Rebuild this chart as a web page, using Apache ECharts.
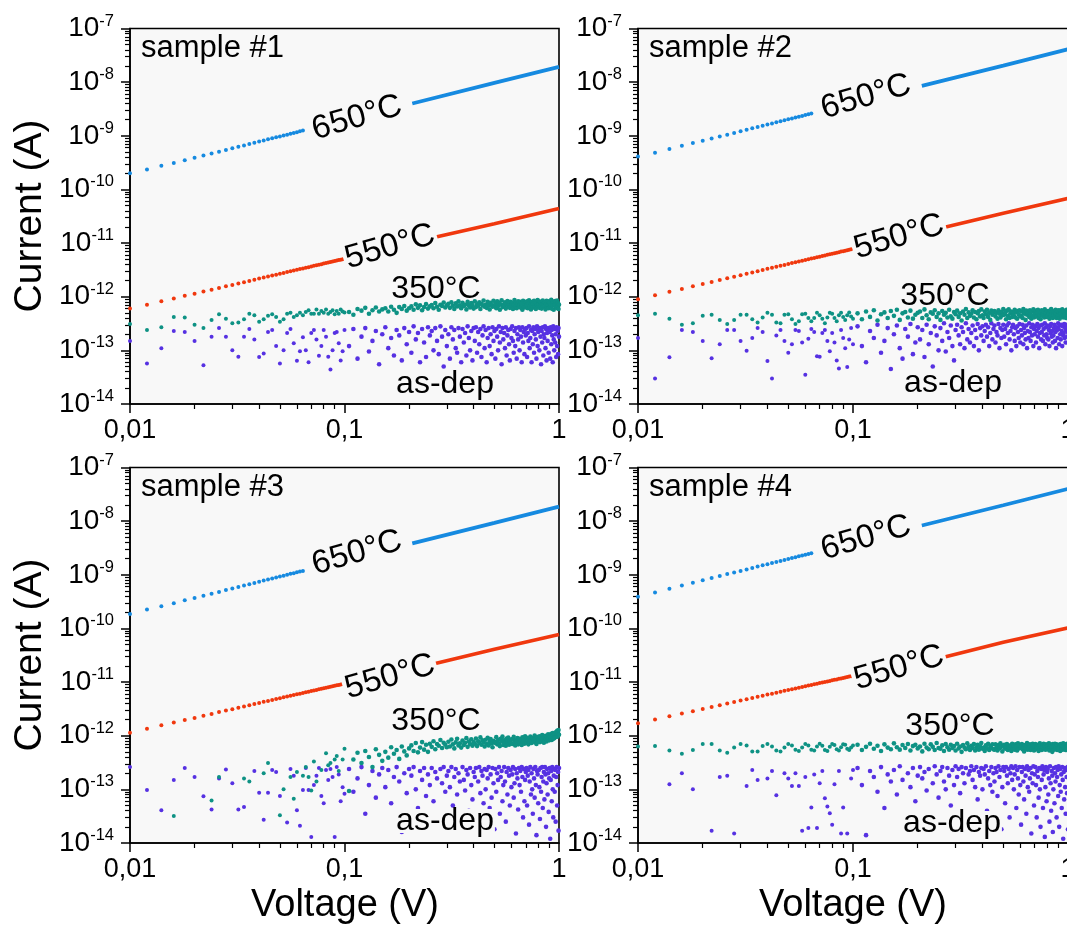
<!DOCTYPE html>
<html><head><meta charset="utf-8">
<script src="https://cdn.jsdelivr.net/npm/echarts@6/dist/echarts.min.js"></script>
<style>html,body{margin:0;padding:0;background:#fff}#c{width:1067px;height:926px}</style>
</head><body><div id="c"></div>
<script>
// Voltage sweep (mV)
const voltage_mV = [
10,12,14,16,18,20,22,24,26,28,30,32,34,36,38,40,42,44,46,48,
50,52,54,56,58,60,62,64,66,68,70,72,74,76,78,80,82,84,86,88,
90,92,94,96,98,100,
105,110,115,120,125,130,135,140,145,150,155,160,165,170,175,180,185,190,195,200,
205,210,215,220,225,230,235,240,245,250,255,260,265,270,275,280,285,290,295,300,
305,310,315,320,325,330,335,340,345,350,355,360,365,370,375,380,385,390,395,400,
405,410,415,420,425,430,435,440,445,450,455,460,465,470,475,480,485,490,495,500,
505,510,515,520,525,530,535,540,545,550,555,560,565,570,575,580,585,590,595,600,
605,610,615,620,625,630,635,640,645,650,655,660,665,670,675,680,685,690,695,700,
705,710,715,720,725,730,735,740,745,750,755,760,765,770,775,780,785,790,795,800,
805,810,815,820,825,830,835,840,845,850,855,860,865,870,875,880,885,890,895,900,
905,910,915,920,925,930,935,940,945,950,955,960,965,970,975,980,985,990,995,1000];

// ---- sample #1 ----
// as-dep and 350°C in units of 1e-13 A (aligned with voltage_mV)
const s1_asdep = [
1.5,0.57,1.1,2.3,2.2,1.5,0.53,1.8,2.6,1.8,1.0,0.76,1.8,2.5,1.6,0.75,0.87,2.2,2.4,1.2,
0.57,1.0,2.1,2.5,1.35,0.64,0.96,1.76,1.0,0.6,2.1,2.4,1.6,0.79,1.2,2.4,1.8,0.76,0.44,1.0,
2.1,2.2,1.35,0.65,0.96,2.4,
1.2,2.5,0.7,1.8,2.6,0.95,1.5,2.3,0.55,2.0,2.7,1.1,1.7,0.8,2.4,1.9,0.65,2.6,1.3,2.2,
0.9,2.8,1.6,2.1,0.6,2.5,1.4,0.75,2.7,1.9,2.3,1.0,2.6,1.5,0.85,2.8,1.8,0.5,2.4,1.2,
2.0,0.7,2.7,1.6,2.4,1.1,0.9,2.6,1.8,0.6,2.5,1.4,2.1,0.8,2.8,1.7,1.0,2.3,0.65,2.6,
1.5,2.7,0.9,2.2,1.3,2.5,0.75,1.9,2.8,1.1,2.4,0.6,1.7,2.6,1.2,2.0,0.85,2.7,1.5,2.3,
0.7,2.5,1.8,1.0,2.8,1.4,2.2,0.55,2.6,1.6,2.1,1.1,2.7,0.8,1.9,2.4,1.3,0.65,2.5,1.7,
2.8,1.5,0.9,2.3,1.2,2.6,0.7,2.0,1.6,2.7,1.0,2.4,1.8,0.6,2.7,1.4,2.2,0.85,2.5,1.9,
2.6,0.75,2.1,1.5,2.8,1.1,1.7,2.4,0.6,2.3,1.3,2.7,0.9,2.0,2.5,1.6,0.7,2.8,1.2,2.2,
2.4,1.0,2.6,1.8,0.55,2.3,1.4,2.7,0.8,2.0,1.7,2.8,1.1,2.5,0.65,2.1,1.5,2.6,0.9,2.4,
2.2,0.7,2.7,1.3,2.4,1.9,0.6,2.8,1.6,1.0,2.5,1.4,2.0,0.75,2.7,1.2,2.3,0.85,2.6,1.8];
const s1_350 = [
3.1,2.4,2.7,4.2,4.1,3.0,2.6,3.7,4.7,3.9,3.2,3.3,3.8,4.8,4.5,3.4,3.8,4.4,4.7,4.2,
3.4,3.8,4.8,5.0,4.2,4.5,5.0,4.5,5.2,5.6,4.8,4.8,5.8,4.8,5.4,5.0,5.8,4.8,5.2,5.6,
4.7,5.4,4.8,5.8,5.3,5.1,
5.2,4.6,5.9,5.5,6.2,4.8,5.6,6.3,5.3,5.8,6.1,5.3,6.5,5.7,5.0,6.4,5.9,6.7,5.5,6.1,
6.6,5.7,7.2,6.2,6.9,5.6,6.4,7.3,6.0,6.6,7.0,6.1,7.6,6.5,5.7,7.1,6.7,7.8,6.3,6.9,
7.4,6.2,7.9,6.8,5.9,7.5,6.6,8.2,6.9,6.1,7.7,6.7,7.1,5.8,8.0,6.9,6.3,7.6,7.0,6.0,
8.2,6.4,7.2,6.8,7.9,5.9,7.4,6.9,8.5,6.5,7.1,6.2,8.0,6.9,5.8,7.7,7.0,6.5,8.4,6.8,
7.4,6.1,8.2,6.7,7.6,5.7,7.2,8.6,6.4,7.0,6.8,7.9,6.0,7.3,8.3,6.5,7.1,6.2,8.0,6.9,
7.6,5.9,7.0,8.7,6.7,7.7,6.1,7.2,8.2,6.5,7.0,8.0,6.2,7.4,5.7,8.4,6.8,7.5,6.3,7.9,
6.9,8.2,6.1,7.2,8.6,6.5,7.7,5.8,7.1,8.0,7.3,6.3,8.4,6.8,7.5,5.9,7.9,7.0,8.7,6.6,
7.2,6.2,8.1,6.9,7.7,6.0,7.1,8.5,6.5,7.4,6.8,7.9,5.8,7.3,8.4,6.4,7.0,8.2,6.1,7.2,
7.7,6.6,7.1,8.8,6.0,7.5,6.9,8.1,5.7,7.3,7.0,8.3,6.5,7.2,6.2,8.5,6.8,7.6,5.9,7.1];
// 550°C dots (1e-12 A) and 650°C dots (1e-10 A), first points of the sweep
const s1_550 = [0.60,0.71,0.82,0.93,1.04,1.14,1.25,1.35,1.46,1.56,1.66,1.77,1.87,1.97,2.07,2.18,2.28,2.38,2.48,2.58,
2.68,2.78,2.88,2.97,3.07,3.17,3.27,3.37,3.47,3.56,3.66,3.76,3.85,3.95,4.05,4.14,4.24,4.34,4.43,4.53,4.62,4.72,4.82,4.91,5.01];
const s1_650 = [2.0,2.35,2.75,3.1,3.5,3.9,4.3,4.7,5.05,5.45,5.85,6.25,6.6,7.0,7.4,7.8,8.2,8.6,9.0,9.35,9.75,10.1,10.5,10.9,11.3,11.7,12.1,12.5];
// dense high-voltage part (V, A)
const s1_550_hi = [[0.267,1.3e-11],[0.5,2.3e-11],[1.0,4.4e-11]];
const s1_650_hi = [[0.207,4.0e-9],[0.5,9.7e-9],[1.0,1.92e-8]];

// ---- sample #2 ----
const s2_asdep = [
1.7,0.30,0.74,2.4,2.2,1.5,0.71,1.3,2.4,2.4,1.5,0.98,1.7,2.6,2.2,0.63,0.30,1.9,2.4,1.5,
0.9,1.3,2.4,2.3,1.4,0.35,1.65,2.5,2.2,0.78,0.76,2.1,2.4,1.5,0.96,2.1,1.4,0.65,0.46,2.4,
1.7,1.1,0.49,1.6,2.6,1.3,
2.8,1.2,0.6,2.3,1.7,3.0,0.9,1.5,2.6,0.45,2.0,2.9,1.1,0.7,2.5,1.8,3.1,0.85,1.4,2.7,
1.6,2.4,0.75,3.0,1.3,2.1,0.5,2.8,1.9,1.0,2.6,1.5,3.2,0.95,2.2,1.7,2.9,1.2,0.65,2.4,
3.0,1.9,1.3,2.7,2.2,1.1,3.2,1.6,2.5,1.4,2.1,2.9,1.2,2.4,1.7,3.1,1.0,2.6,1.9,2.8,
1.5,2.3,3.0,1.8,2.7,1.2,2.1,3.2,1.6,2.5,2.9,1.4,2.2,1.9,3.1,1.1,2.6,1.7,2.4,3.0,
1.8,2.5,1.3,2.9,2.1,3.2,1.6,2.3,1.0,2.7,3.0,2.0,1.5,2.6,1.2,2.8,2.2,1.7,3.1,1.4,
2.4,1.9,3.0,1.3,2.6,2.1,1.6,2.9,1.1,2.3,1.7,3.2,2.2,1.5,2.7,1.9,3.0,1.2,2.5,2.0,
2.8,1.4,2.3,3.1,1.8,2.6,1.1,2.1,2.9,1.6,2.2,3.0,1.5,2.5,1.9,3.2,1.3,2.7,2.0,1.7,
2.9,1.6,2.4,1.2,2.8,2.1,3.1,1.8,2.3,1.4,1.9,2.6,3.0,1.5,2.2,1.1,2.7,2.4,1.7,3.2,
2.5,1.3,2.9,2.0,1.6,3.0,2.3,1.2,2.8,1.9,2.1,3.1,1.7,2.6,1.4,2.4,3.0,1.8,2.2,2.7];
const s2_350 = [
4.5,4.8,3.9,3.0,3.2,4.4,4.6,3.7,3.1,3.7,4.6,4.6,3.8,3.3,4.1,5.0,4.6,3.3,3.2,4.6,
4.7,3.8,3.1,3.5,4.7,4.8,4.0,3.5,4.0,5.0,4.5,3.9,3.2,4.1,5.0,4.8,4.0,3.5,4.5,5.0,
4.2,3.7,4.5,5.1,4.3,3.9,
4.9,3.8,5.3,4.2,5.6,3.6,4.7,5.1,4.0,5.4,4.4,5.7,3.7,4.9,5.2,4.1,5.5,3.9,4.6,5.0,
5.3,4.0,5.8,4.5,3.8,5.1,4.8,5.6,4.2,4.9,3.7,5.4,4.6,5.0,4.1,5.7,4.3,3.9,5.2,4.7,
5.5,4.2,4.9,3.6,5.3,4.6,5.9,4.0,5.1,4.4,4.8,5.6,4.1,5.2,3.8,4.9,5.4,4.3,5.8,4.5,
4.0,5.3,4.7,5.7,4.2,5.0,3.7,5.5,4.6,5.1,5.4,4.3,5.0,3.9,5.6,4.8,4.1,5.2,4.5,5.9,
4.6,5.1,3.8,5.5,4.4,5.8,4.0,4.9,5.3,4.2,5.0,4.5,5.7,4.1,5.2,3.9,5.4,4.7,5.6,4.3,
4.4,5.3,4.0,5.9,4.8,5.1,3.7,5.5,4.6,5.0,5.2,4.2,5.6,4.7,3.9,5.4,4.4,5.8,4.1,4.9,
4.7,5.5,4.3,5.0,5.7,4.0,5.3,4.5,3.8,5.1,5.6,4.4,4.9,5.3,4.1,5.8,4.6,5.0,4.2,5.4,
4.3,5.2,4.8,3.9,5.5,4.5,5.9,4.7,5.1,4.0,5.0,4.6,5.4,4.2,5.7,4.8,4.0,5.3,4.4,5.6,
4.5,5.1,3.9,5.6,4.7,5.2,4.3,5.8,4.9,4.1,5.3,4.4,5.0,4.6,5.5,4.0,5.7,4.8,5.2,4.5];
const s2_550 = [0.90,1.07,1.24,1.40,1.56,1.73,1.89,2.05,2.21,2.36,2.51,2.68,2.83,2.99,3.14,3.31,3.46,3.61,3.77,3.92,
4.08,4.23,4.38,4.52,4.67,4.83,4.98,5.13,5.29,5.43,5.58,5.74,5.88,6.03,6.18,6.32,6.48,6.63,6.77,6.93,7.07,7.22,7.37,7.51,7.66];
const s2_650 = [4.1,4.85,5.65,6.5,7.3,8.1,8.9,9.7,10.5,11.3,12.2,13.0,13.8,14.6,15.4,16.2,17.0,17.8,18.6,19.4,20.3,21.1,21.9,22.7,23.5,24.3,25.1,25.9];
const s2_550_hi = [[0.27,2.0e-11],[0.5,3.6e-11],[1.0,6.8e-11]];
const s2_650_hi = [[0.209,8.5e-9],[0.5,2.03e-8],[1.0,4.1e-8]];

// ---- sample #3 ----
const s3_asdep = [
2.6,0.97,0.41,1.5,2.5,1.7,0.74,0.42,1.6,2.35,1.3,0.42,0.47,null,2.2,0.86,0.27,0.86,2.3,2.1,
0.75,null,0.24,2.4,1.8,0.41,0.21,0.97,2.5,0.97,0.13,1.2,1.8,2.5,0.75,0.55,2.3,1.5,2.4,1.7,
0.13,2.6,1.9,0.6,1.1,0.83,
2.4,0.9,1.6,2.6,0.35,1.2,2.2,0.7,1.9,2.5,1.1,2.3,0.55,1.7,2.6,1.4,0.16,2.0,0.85,2.4,
1.8,2.6,1.0,0.45,2.2,1.5,2.5,0.75,1.9,1.2,2.5,0.6,2.1,1.6,0.28,2.4,1.3,2.6,0.9,1.8,
2.2,1.1,2.6,0.5,1.7,2.4,0.8,2.0,1.4,0.2,2.6,1.5,0.95,2.3,1.9,0.4,2.5,1.2,0.65,2.1,
1.7,2.5,0.3,1.4,2.6,0.85,2.2,1.8,0.55,2.4,1.0,2.3,1.6,2.6,0.45,1.9,0.7,2.5,1.3,0.18,
2.4,0.9,2.0,1.5,2.6,0.35,1.7,2.2,0.6,1.2,2.6,1.4,0.25,2.1,0.8,2.5,1.8,0.5,2.3,1.1,
1.9,2.6,0.7,1.3,2.4,0.15,2.0,1.6,0.42,2.5,1.2,2.2,0.9,2.6,1.7,0.3,2.4,0.6,1.5,2.1,
2.5,0.5,1.8,2.3,0.22,1.4,2.6,0.8,2.0,1.0,0.35,2.4,1.6,0.7,2.6,1.2,0.14,2.2,1.9,0.55,
2.3,1.1,0.28,2.5,0.9,1.7,2.6,0.45,1.4,2.1,0.65,2.6,1.9,0.2,1.3,2.4,0.8,2.0,0.38,1.6,
2.5,0.12,1.5,2.2,0.6,2.6,1.0,0.3,1.8,2.4,0.9,2.3,0.25,1.7,2.6,0.5,1.2,2.1,0.17,2.5];
const s3_350 = [
null,null,null,0.32,null,null,null,0.62,1.7,null,null,null,1.6,1.4,null,null,2.0,3.1,null,null,
0.33,1.0,null,1.7,0.67,2.1,null,1.8,2.6,1.7,0.95,3.3,1.4,null,2.3,null,4.7,2.8,3.1,null,
3.6,4.2,2.2,null,3.6,5.7,
0.93,3.6,4.8,3.1,5.2,4.0,2.6,5.6,4.4,3.4,5.0,3.9,6.1,4.6,5.4,3.7,6.3,5.1,4.3,5.8,
6.6,5.2,7.3,4.9,6.0,7.6,5.5,6.8,5.0,7.1,6.2,7.9,5.6,7.0,6.5,8.3,5.9,7.4,6.8,6.1,
7.7,6.3,8.5,6.9,5.8,7.5,8.8,6.6,7.2,6.0,8.1,6.7,7.4,9.0,6.2,7.8,7.0,8.6,6.5,7.6,
7.1,8.9,6.4,7.9,7.3,9.3,6.8,8.2,7.5,6.3,8.4,7.0,9.1,6.6,7.7,8.7,7.2,6.1,8.0,7.4,
7.6,9.4,6.9,8.3,7.1,6.4,8.8,7.8,9.6,6.7,8.2,7.3,6.5,8.9,7.7,9.2,6.8,8.0,7.4,8.6,
7.0,8.5,9.5,7.5,6.6,8.1,7.9,9.0,6.9,8.4,8.8,7.2,8.0,6.7,9.3,7.6,8.6,7.1,9.8,7.8,
7.4,9.1,8.3,6.9,8.7,7.7,9.6,8.0,7.3,8.9,9.0,7.8,8.5,10.1,7.5,8.8,7.0,9.4,8.2,7.7,
8.6,9.7,7.6,8.3,9.2,7.9,10.3,8.1,8.8,7.4,9.3,8.0,10.0,8.7,7.8,9.6,8.4,10.6,8.9,8.2,
9.9,8.5,9.2,10.8,8.3,9.7,11.2,8.8,10.2,9.0,10.5,9.4,11.6,9.8,10.9,12.3,9.6,11.1,12.8,10.4];
const s3_550 = [1.14,1.35,1.56,1.76,1.96,2.15,2.36,2.55,2.76,2.94,3.13,3.33,3.52,3.70,3.89,4.09,4.28,4.46,4.64,4.83,
5.01,5.19,5.37,5.54,5.72,5.90,6.08,6.26,6.44,6.61,6.79,6.97,7.13,7.31,7.49,7.65,7.83,8.01,8.17,8.35,8.51,8.69,8.86,9.02,9.20];
const s3_650 = [1.85,2.25,2.6,2.95,3.35,3.7,4.05,4.45,4.8,5.2,5.55,5.9,6.3,6.65,7.05,7.4,7.8,8.15,8.5,8.9,9.25,9.6,10.0,10.4,10.7,11.1,11.5,11.8];
const s3_550_hi = [[0.262,2.2e-11],[0.5,4.1e-11],[1.0,7.7e-11]];
const s3_650_hi = [[0.207,3.85e-9],[0.5,9.3e-9],[1.0,1.87e-8]];

// ---- sample #4 ----
const s4_asdep = [
null,null,1.25,2.0,1.0,null,0.17,1.7,1.8,0.15,null,1.15,2.3,1.5,null,1.6,2.2,0.78,null,2.0,
1.6,1.15,2.0,1.15,0.17,1.7,0.19,0.46,1.9,0.19,1.3,2.2,0.68,0.48,0.36,0.22,1.25,null,2.2,0.15,
0.46,null,0.15,null,1.6,2.3,
2.5,1.2,0.14,2.2,1.7,0.9,2.6,0.45,1.9,1.4,2.3,0.8,2.7,1.5,0.2,2.0,1.1,2.5,0.6,1.8,
2.6,1.6,2.1,0.95,2.4,0.35,1.3,2.7,1.9,0.7,2.2,2.6,1.4,1.0,2.5,1.8,0.5,2.3,1.2,2.7,
1.7,2.4,0.85,2.6,2.0,1.3,2.5,0.28,1.9,2.2,2.7,1.5,2.3,1.1,2.6,0.65,2.1,1.8,2.5,1.0,
2.4,1.9,2.7,0.4,1.6,2.2,1.2,2.6,0.9,2.0,1.4,2.5,2.1,0.75,2.7,1.7,2.3,0.18,1.1,2.6,
2.2,0.55,2.6,1.8,1.3,2.4,0.3,2.0,2.7,1.5,2.5,1.0,1.9,2.7,0.45,2.3,1.6,0.8,2.6,1.2,
0.22,2.1,2.6,1.4,0.65,2.4,1.8,0.35,2.7,1.1,2.3,0.9,1.6,2.5,0.15,2.0,1.3,2.7,0.5,1.9,
2.6,1.2,0.3,2.2,1.7,0.7,2.5,1.0,0.2,2.4,1.5,2.7,0.45,1.9,2.3,0.13,1.1,2.6,0.6,2.1,
2.4,0.8,1.6,0.25,2.7,1.3,0.4,2.2,1.8,0.16,1.0,2.5,0.55,2.0,1.4,2.6,0.3,1.7,2.3,0.75,
2.7,0.2,1.2,2.4,0.9,1.9,0.45,2.6,1.5,0.12,2.1,0.65,2.5,1.1,0.35,2.3,1.7,0.85,2.6,0.18];
const s4_350 = [
6.3,6.4,5.3,4.6,5.4,7.0,7.0,5.3,4.8,6.0,7.0,6.6,5.1,5.1,6.4,7.0,6.3,5.3,5.1,6.0,
7.0,6.6,5.5,5.2,6.0,7.0,6.6,5.5,5.3,6.3,7.1,6.5,5.4,5.2,6.2,7.0,6.7,5.6,5.3,6.1,
6.9,6.8,5.7,5.4,6.0,6.6,
6.8,5.4,6.2,7.1,5.7,6.5,5.2,6.9,6.0,5.6,7.2,6.1,5.5,6.7,5.9,7.0,5.3,6.4,6.8,5.8,
6.3,5.1,7.1,6.0,5.6,6.9,6.2,5.4,7.3,5.9,5.7,6.6,5.2,7.0,6.1,5.5,6.8,5.9,6.4,5.3,
7.1,5.8,6.3,5.0,6.7,6.0,5.6,7.2,6.2,5.4,6.5,5.9,7.0,5.3,6.1,6.8,5.5,6.3,7.3,5.7,
6.0,5.2,6.6,5.8,7.1,5.4,6.4,5.9,6.9,5.6,5.5,6.9,6.1,5.3,6.7,5.8,7.2,6.2,5.1,6.5,
6.8,5.7,6.3,7.0,5.4,6.1,5.9,6.6,5.2,7.1,5.9,6.4,5.5,6.9,6.2,5.3,7.2,5.8,6.5,6.0,
6.2,7.0,5.6,6.0,5.1,6.7,5.9,6.4,7.3,5.5,5.8,6.5,6.9,5.4,6.2,5.7,7.1,6.0,5.3,6.6,
7.0,5.6,6.3,5.9,6.8,5.2,6.5,7.2,5.7,6.1,5.4,6.7,6.0,7.1,5.8,6.4,5.5,6.9,6.2,5.6,
6.6,5.9,7.2,5.3,6.1,6.8,5.7,6.3,5.0,7.0,6.0,5.5,6.5,7.1,5.8,6.2,6.9,5.4,6.7,5.9,
5.7,6.8,6.1,5.2,7.0,6.4,5.9,6.6,5.5,7.2,6.3,5.8,6.9,6.1,5.4,6.7,6.0,7.1,5.6,6.5];
const s4_550 = [1.70,2.00,2.30,2.59,2.87,3.15,3.44,3.70,3.99,4.25,4.51,4.80,5.04,5.31,5.56,5.85,6.08,6.33,6.62,6.88,
7.11,7.36,7.61,7.84,8.09,8.38,8.62,8.86,9.10,9.32,9.57,9.82,10.0,10.3,10.5,10.8,11.0,11.2,11.5,11.7,11.9,12.2,12.4,12.7,12.9];
const s4_650 = [3.9,4.65,5.5,6.3,7.1,7.9,8.7,9.5,10.3,11.0,11.8,12.6,13.4,14.2,15.0,15.8,16.6,17.4,18.1,18.9,19.7,20.5,21.3,22.1,22.9,23.7,24.5,25.3];
const s4_550_hi = [[0.264,2.9e-11],[0.5,5.5e-11],[1.0,1.02e-10]];
const s4_650_hi = [[0.209,8.3e-9],[0.5,1.98e-8],[1.0,4.0e-8]];

const sampleNames = ['sample #1','sample #2','sample #3','sample #4'];
const tempLabels = ['650°C','550°C','350°C','as-dep'];
const xLabel = 'Voltage (V)';
const yLabel = 'Current (A)';

// ---------- build ----------
const FA = 1e15; // plot current in fA internally (axis labels show A)
const BLUE = '#168ae0', RED = '#f0380e', TEAL = '#0e9284', PURPLE = '#5631e2';
const BG = '#f8f8f8';
const FONT = '"Liberation Sans", Arial, Helvetica, sans-serif';
const dotSize = (val) => (val[0] < 0.101 ? 4 : 4.6);

function pts(vals, unitA) {
  const out = [];
  vals.forEach((v, i) => { if (v != null) out.push([voltage_mV[i] / 1000, v * unitA * FA]); });
  return out;
}
function hi(arr) { return arr.map(p => [p[0], p[1] * FA]); }

const panels = [
  {as: s1_asdep, t350: s1_350, t550: s1_550, t650: s1_650, h550: s1_550_hi, h650: s1_650_hi},
  {as: s2_asdep, t350: s2_350, t550: s2_550, t650: s2_650, h550: s2_550_hi, h650: s2_650_hi},
  {as: s3_asdep, t350: s3_350, t550: s3_550, t650: s3_650, h550: s3_550_hi, h650: s3_650_hi},
  {as: s4_asdep, t350: s4_350, t550: s4_550, t650: s4_650, h550: s4_550_hi, h650: s4_650_hi}
];
const grids = [
  {left: 130, top: 28.5, width: 429, height: 375.5},
  {left: 638, top: 28.5, width: 430, height: 375.5},
  {left: 130, top: 467.5, width: 429, height: 375.5},
  {left: 638, top: 467.5, width: 430, height: 375.5}
];

const grid = [], xAxis = [], yAxis = [], series = [];
const axisCommon = {
  axisLine: {show: true, onZero: false, lineStyle: {color: '#000', width: 1.6}},
  axisTick: {show: true, inside: false, length: 9, lineStyle: {color: '#000', width: 1.5}},
  minorTick: {show: true, splitNumber: 9, length: 5, lineStyle: {color: '#000', width: 1.2}},
  splitLine: {show: false}, minorSplitLine: {show: false}
};
panels.forEach((P, i) => {
  grid.push(Object.assign({show: true, backgroundColor: BG, borderColor: '#000', borderWidth: 1.6,
    containLabel: false, outerBoundsMode: 'none'}, grids[i]));
  xAxis.push(Object.assign({
    type: 'log', logBase: 10, min: 0.01, max: 1, gridIndex: i,
    axisLabel: {show: true, showMinLabel: true, showMaxLabel: true, margin: 13, fontSize: 27, fontFamily: FONT, color: '#000',
      formatter: v => String(+(+v).toPrecision(6)).replace('.', ',')}
  }, axisCommon));
  yAxis.push(Object.assign({
    type: 'log', logBase: 10, min: 10, max: 1e8, gridIndex: i,
    axisLabel: {show: true, showMinLabel: true, showMaxLabel: true, margin: 16, color: '#000', fontSize: 27, fontFamily: FONT,
      formatter: v => '{m|10}{s|' + (Math.round(Math.log10(v)) - 15) + '}',
      rich: {m: {fontSize: 28, fontFamily: FONT, color: '#000', lineHeight: 32},
             s: {fontSize: 16.5, fontFamily: FONT, color: '#000', verticalAlign: 'top', lineHeight: 17}}}
  }, axisCommon));
  const common = {xAxisIndex: i, yAxisIndex: i, silent: true, animation: false};
  const sc = (data, color) => Object.assign({type: 'scatter', data, symbolSize: dotSize,
    itemStyle: {color, opacity: 1}}, common);
  series.push(sc(pts(P.as, 1e-13), PURPLE));
  series.push(sc(pts(P.t350, 1e-13), TEAL));
  series.push(sc(pts(P.t550, 1e-12), RED));
  series.push(Object.assign({type: 'line', data: hi(P.h550), showSymbol: false, lineStyle: {color: RED, width: 3.6}}, common));
  series.push(sc(pts(P.t650, 1e-10), BLUE));
  series.push(Object.assign({type: 'line', data: hi(P.h650), showSymbol: false, lineStyle: {color: BLUE, width: 3.8}}, common));
});

// text labels (pixel layout)
const labelPos = [
  [[357,118],[390,247],[436,289],[445,384]],
  [[866,97],[899,237],[945,296],[953,383]],
  [[357,553],[390,677],[436,721],[445,821]],
  [[866,538],[899,668],[950,726],[952,823]]
];
const samplePos = [[141,48],[649,48],[141,487],[649,487]];
const graphic = [];
const DEG = Math.PI / 180;
labelPos.forEach((L, i) => {
  L.forEach((p, k) => {
    const st = {text: tempLabels[k], fontSize: k < 2 ? 33 : 32, fontFamily: FONT, fill: '#000', align: 'center', verticalAlign: 'middle'};
    if (k !== 2) { st.backgroundColor = BG; st.padding = k === 3 ? [-4, 1] : [0, 2]; }
    graphic.push({type: 'text', x: p[0], y: p[1], rotation: k < 2 ? 16 * DEG : 0, z: 100, style: st});
  });
  graphic.push({type: 'text', x: samplePos[i][0], y: samplePos[i][1], z: 100,
    style: {text: sampleNames[i], fontSize: 31, fontFamily: FONT, fill: '#000', align: 'left', verticalAlign: 'middle'}});
});
[[30,216],[30,655]].forEach(p => graphic.push({type: 'text', x: p[0], y: p[1], rotation: 90 * DEG, z: 100,
  style: {text: yLabel, fontSize: 39, fontFamily: FONT, fill: '#000', align: 'center', verticalAlign: 'middle'}}));
[[345,906],[853,906]].forEach(p => graphic.push({type: 'text', x: p[0], y: p[1], z: 100,
  style: {text: xLabel, fontSize: 38, fontFamily: FONT, fill: '#000', align: 'center', verticalAlign: 'middle'}}));

const chart = echarts.init(document.getElementById('c'), null, {renderer: 'canvas'});
chart.setOption({animation: false, backgroundColor: '#fff', grid, xAxis, yAxis, series, graphic});
</script>
</body></html>
